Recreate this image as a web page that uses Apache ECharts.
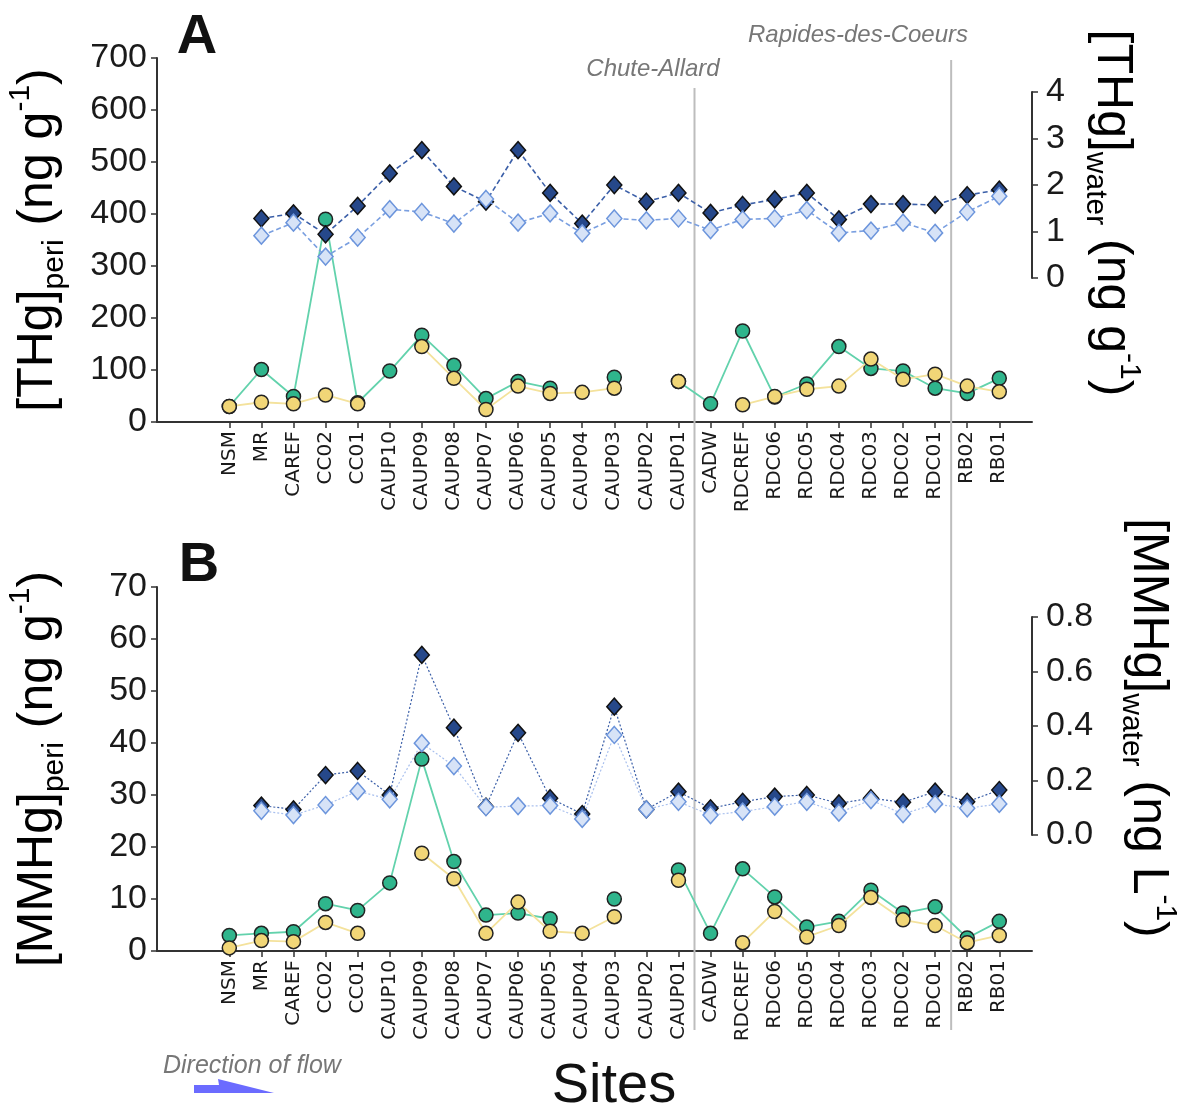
<!DOCTYPE html>
<html>
<head>
<meta charset="utf-8">
<script src="https://cdn.jsdelivr.net/npm/echarts@6/dist/echarts.min.js"></script>
<style>
  html, body { margin: 0; padding: 0; background: #ffffff; }
  #chart { width: 1183px; height: 1112px; }
</style>
</head>
<body>
<div id="chart"></div>
<script>
// Sampling sites, ordered downstream along the river
const sites = ['NSM', 'MR', 'CAREF', 'CC02', 'CC01', 'CAUP10', 'CAUP09', 'CAUP08', 'CAUP07',
  'CAUP06', 'CAUP05', 'CAUP04', 'CAUP03', 'CAUP02', 'CAUP01', 'CADW', 'RDCREF', 'RDC06',
  'RDC05', 'RDC04', 'RDC03', 'RDC02', 'RDC01', 'RB02', 'RB01'];

// Panel A: total mercury
const thgPeriA = [30, 101, 49, 390, 37, 98, 167, 109, 45, 78, 65, null, 86, null, 78,
  35, 175, 48, 73, 145, 103, 98, 65, 55, 84];
const thgPeriB = [30, 38, 35, 52, 35, null, 145, 84, 24, 69, 55, 57, 65, null, 78,
  null, 33, 49, 63, 69, 121, 82, 92, 69, 58];
const thgWaterA = [null, 1.28, 1.39, 0.94, 1.55, 2.25, 2.75, 1.97, 1.64, 2.75, 1.83, 1.17, 2.00, 1.64, 1.83,
  1.40, 1.57, 1.69, 1.83, 1.26, 1.59, 1.59, 1.57, 1.78, 1.90];
const thgWaterB = [null, 0.91, 1.19, 0.46, 0.87, 1.48, 1.42, 1.17, 1.70, 1.19, 1.39, 0.96, 1.28, 1.24, 1.28,
  1.03, 1.26, 1.28, 1.46, 0.97, 1.02, 1.19, 0.97, 1.42, 1.76];

// Panel B: methylmercury
const mmhgPeriA = [3.0, 3.4, 3.7, 9.1, 7.8, 13.1, 36.9, 17.2, 6.9, 7.3, 6.2, null, 10.0, null, 15.6,
  3.4, 15.8, 10.4, 4.6, 5.7, 11.7, 7.3, 8.5, 2.5, 5.7];
const mmhgPeriB = [0.6, 2.0, 1.8, 5.5, 3.4, null, 18.8, 13.9, 3.4, 9.4, 3.8, 3.4, 6.6, null, 13.6,
  null, 1.6, 7.6, 2.7, 4.9, 10.3, 6.0, 4.9, 1.6, 3.0];
const mmhgWaterA = [null, 0.108, 0.094, 0.220, 0.235, 0.147, 0.661, 0.394, 0.104, 0.375, 0.135, 0.077, 0.471, 0.094, 0.159,
  0.098, 0.122, 0.141, 0.147, 0.116, 0.135, 0.120, 0.159, 0.122, 0.165];
const mmhgWaterB = [null, 0.089, 0.073, 0.110, 0.161, 0.131, 0.337, 0.253, 0.102, 0.106, 0.108, 0.059, 0.367, 0.094, 0.122,
  0.073, 0.086, 0.104, 0.122, 0.082, 0.128, 0.077, 0.114, 0.098, 0.114];

// Axis ticks: [min, max, step]
const thgPeriTicks = [0, 700, 100];
const thgWaterTicks = [0, 4, 1];
const mmhgPeriTicks = [0, 70, 10];
const mmhgWaterTicks = [0, 0.8, 0.2];

// Dam locations (between sites) and their names
const damPositions = [14.5, 22.5];
const damNames = ['Chute-Allard', 'Rapides-des-Coeurs'];

const siteIndex = sites.map((_, i) => i);
const X_MIN = -2.254, X_MAX = 25.02;
const AXIS_COLOR = '#333';
const NUM_FONT = 'Liberation Sans, Arial, sans-serif';

const GREEN = '#2fb58c', GREEN_LINE = '#62d2ac';
const YELLOW = '#f1d677', YELLOW_LINE = '#f4e29c';
const NAVY = '#26488a', NAVY_LINE = '#3b5fa8';
const PALE = '#d7e3f7', PALE_EDGE = '#6c95dc', PALE_LINE = '#7a9fe0';

function pts(arr) { return arr.map((v, i) => [i, v == null ? '-' : v]); }

function xAxisFor(gridIndex, visible) {
  return {
    type: 'value', gridIndex, min: X_MIN, max: X_MAX, show: visible,
    splitLine: { show: false },
    axisLine: { show: visible, onZero: false, lineStyle: { color: AXIS_COLOR, width: 2 } },
    axisTick: { show: visible, customValues: siteIndex, length: 6, lineStyle: { color: AXIS_COLOR, width: 1.5 } },
    axisLabel: {
      show: visible, customValues: siteIndex, rotate: 90, margin: 9,
      formatter: v => sites[Math.round(v)] || '',
      fontFamily: 'DejaVu Sans', fontSize: 20, color: '#1a1a1a'
    }
  };
}

function yAxisFor(gridIndex, pos, ticks, fmt, margin) {
  return {
    type: 'value', gridIndex, position: pos, min: ticks[0], max: ticks[1], interval: ticks[2],
    splitLine: { show: false },
    axisLine: { show: true, onZero: false, lineStyle: { color: AXIS_COLOR, width: 2 } },
    axisTick: { show: true, length: 6, lineStyle: { color: AXIS_COLOR, width: 1.5 } },
    axisLabel: { margin, fontFamily: NUM_FONT, fontSize: 34, color: '#1a1a1a', formatter: fmt }
  };
}

function circles(data, xi, yi, fill, line, z) {
  return {
    type: 'line', xAxisIndex: xi, yAxisIndex: yi, data: pts(data), z,
    symbol: 'circle', symbolSize: 14, showAllSymbol: true,
    itemStyle: { color: fill, borderColor: '#222', borderWidth: 1.5 },
    lineStyle: { color: line, width: 1.8 }, emphasis: { disabled: true }
  };
}

function diamonds(data, xi, yi, fill, edge, line, dash, width, z) {
  return {
    type: 'line', xAxisIndex: xi, yAxisIndex: yi, data: pts(data), z,
    symbol: 'diamond', symbolSize: [15, 17], showAllSymbol: true,
    itemStyle: { color: fill, borderColor: edge, borderWidth: 1.5 },
    lineStyle: { color: line, width, type: dash }, emphasis: { disabled: true }
  };
}

const chart = echarts.init(document.getElementById('chart'), null, { renderer: 'canvas' });

chart.setOption({
  animation: false,
  backgroundColor: '#ffffff',
  grid: [
    { left: 157, width: 875, top: 58, height: 364 },
    { left: 157, width: 875, top: 92, height: 186 },
    { left: 157, width: 875, top: 587, height: 364 },
    { left: 157, width: 875, top: 617, height: 218 }
  ],
  xAxis: [xAxisFor(0, true), xAxisFor(1, false), xAxisFor(2, true), xAxisFor(3, false)],
  yAxis: [
    yAxisFor(0, 'left', thgPeriTicks, v => String(v), 10),
    yAxisFor(1, 'right', thgWaterTicks, v => String(v), 14),
    yAxisFor(2, 'left', mmhgPeriTicks, v => String(v), 10),
    yAxisFor(3, 'right', mmhgWaterTicks, v => v.toFixed(1), 14)
  ],
  series: [
    circles(thgPeriA, 0, 0, GREEN, GREEN_LINE, 3),
    circles(thgPeriB, 0, 0, YELLOW, YELLOW_LINE, 4),
    diamonds(thgWaterA, 1, 1, NAVY, '#111', NAVY_LINE, [5, 3], 1.6, 5),
    diamonds(thgWaterB, 1, 1, PALE, PALE_EDGE, PALE_LINE, [5, 3], 1.6, 6),
    circles(mmhgPeriA, 2, 2, GREEN, GREEN_LINE, 3),
    circles(mmhgPeriB, 2, 2, YELLOW, YELLOW_LINE, 4),
    diamonds(mmhgWaterA, 3, 3, NAVY, '#111', NAVY_LINE, [2, 2], 1.2, 5),
    diamonds(mmhgWaterB, 3, 3, PALE, PALE_EDGE, '#a9c0ee', [2, 2], 1.2, 6)
  ]
});

// Axis titles, panel letters, dam markers and flow arrow
const titleRich = {
  m: { fontFamily: NUM_FONT, fontSize: 50, color: '#111', lineHeight: 64 },
  s: { fontFamily: NUM_FONT, fontSize: 30, color: '#111', lineHeight: 30, verticalAlign: 'bottom' },
  p: { fontFamily: NUM_FONT, fontSize: 30, color: '#111', lineHeight: 30, verticalAlign: 'top' }
};

function axisTitle(text, x, y, rotation) {
  return {
    type: 'text', x, y, rotation, z: 10,
    style: { text, rich: titleRich, align: 'center', verticalAlign: 'middle' }
  };
}

const damX = damPositions.map(p => chart.convertToPixel({ xAxisIndex: 0 }, p));
const damTop = [88, 60];

const graphics = [
  axisTitle('{m|[THg]}{s|peri}{m| (ng g}{p|-1}{m|)}', 38, 240, Math.PI / 2),
  axisTitle('{m|[MMHg]}{s|peri}{m| (ng g}{p|-1}{m|)}', 38, 769, Math.PI / 2),
  axisTitle('{m|[THg]}{s|water}{m| (ng g}{p|-1}{m|)}', 1112, 213, -Math.PI / 2),
  axisTitle('{m|[MMHg]}{s|water}{m| (ng L}{p|-1}{m|)}', 1148, 728, -Math.PI / 2),
  { type: 'text', x: 197, y: 38, z: 10,
    style: { text: 'A', fontFamily: NUM_FONT, fontWeight: 'bold', fontSize: 56, fill: '#111', align: 'center', verticalAlign: 'middle' } },
  { type: 'text', x: 199, y: 566, z: 10,
    style: { text: 'B', fontFamily: NUM_FONT, fontWeight: 'bold', fontSize: 56, fill: '#111', align: 'center', verticalAlign: 'middle' } },
  { type: 'text', x: 614, y: 1087, z: 10,
    style: { text: 'Sites', fontFamily: NUM_FONT, fontSize: 56, fill: '#111', align: 'center', verticalAlign: 'middle' } },
  { type: 'text', x: 163, y: 1066, z: 10,
    style: { text: 'Direction of flow', fontFamily: NUM_FONT, fontStyle: 'italic', fontSize: 25, fill: '#777', align: 'left', verticalAlign: 'middle' } },
  { type: 'polygon', z: 10,
    shape: { points: [[194, 1085], [219, 1085], [218, 1079], [274, 1093], [194, 1093]] },
    style: { fill: '#6b6bff' } }
];

damX.forEach((x, i) => {
  graphics.push({
    type: 'line', z: 1,
    shape: { x1: x, y1: damTop[i], x2: x, y2: 1030 },
    style: { stroke: '#bdbdbd', lineWidth: 2 }
  });
});
graphics.push(
  { type: 'text', x: 653, y: 69, z: 10,
    style: { text: damNames[0], fontFamily: NUM_FONT, fontStyle: 'italic', fontSize: 24, fill: '#777', align: 'center', verticalAlign: 'middle' } },
  { type: 'text', x: 858, y: 35, z: 10,
    style: { text: damNames[1], fontFamily: NUM_FONT, fontStyle: 'italic', fontSize: 24, fill: '#777', align: 'center', verticalAlign: 'middle' } }
);

chart.setOption({ graphic: graphics });
</script>
</body>
</html>
